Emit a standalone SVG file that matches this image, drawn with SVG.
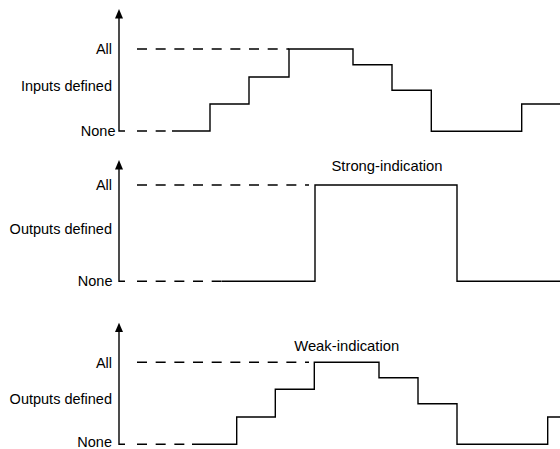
<svg xmlns="http://www.w3.org/2000/svg" width="560" height="449" viewBox="0 0 560 449">
<style>
.ax{fill:none;stroke:#000;stroke-width:1.4}
.sig{fill:none;stroke:#000;stroke-width:1.4}
.dash{fill:none;stroke:#000;stroke-width:1.4;stroke-dasharray:10 8.67}
.head{fill:#000}
.lbl{font-family:"Liberation Sans",Arial,sans-serif;font-size:14.5px;fill:#000;text-anchor:end}
.ttl{font-family:"Liberation Sans",Arial,sans-serif;font-size:14.8px;fill:#000;text-anchor:middle}
</style>
<rect width="560" height="449" fill="#fff"/>
<g id="panel-inputs">
  <path class="ax" d="M119,17 V131 H125"/>
  <polygon class="head" points="119,9 115,18.5 123,18.5"/>
  <text class="lbl" x="112" y="54">All</text>
  <text class="lbl" x="112" y="91">Inputs defined</text>
  <text class="lbl" x="115.5" y="136">None</text>
  <g id="conn-inputs">
    <line class="dash" x1="137" y1="49" x2="289" y2="49"/>
    <line class="dash" x1="137" y1="131" x2="172" y2="131"/>
    <path class="sig" d="M172,131 H210 V104 H249 V77 H289 V49 H353 V64.7 H392 V90.3 H431.3 V131.3 H521.7 V104 H560"/>
  </g>
</g>
<g id="panel-strong">
  <path class="ax" d="M119,168 V281.3 H125"/>
  <polygon class="head" points="119,160 115,169.5 123,169.5"/>
  <text class="lbl" x="112" y="190">All</text>
  <text class="lbl" x="112" y="234">Outputs defined</text>
  <text class="lbl" x="112.5" y="286">None</text>
  <text class="ttl" x="387" y="171">Strong-indication</text>
  <g id="conn-strong">
    <line class="dash" x1="137" y1="185" x2="309" y2="185"/>
    <line class="dash" x1="137" y1="281.3" x2="222" y2="281.3"/>
    <path class="sig" d="M222,281.3 H315 V185 H457 V281.3 H560"/>
  </g>
</g>
<g id="panel-weak">
  <path class="ax" d="M119,331 V444.3 H125"/>
  <polygon class="head" points="119,322.7 115,332 123,332"/>
  <text class="lbl" x="112" y="367.5">All</text>
  <text class="lbl" x="112" y="404">Outputs defined</text>
  <text class="lbl" x="112" y="447">None</text>
  <text class="ttl" x="346.7" y="351">Weak-indication</text>
  <g id="conn-weak">
    <line class="dash" x1="137" y1="362.3" x2="309" y2="362.3"/>
    <line class="dash" x1="137" y1="444.3" x2="192" y2="444.3"/>
    <path class="sig" d="M192,444.3 H236.7 V417 H275.3 V389.3 H314.3 V362.3 H379 V377.7 H418 V403.7 H457 V444.3 H547.7 V417 H560"/>
  </g>
</g>
</svg>
